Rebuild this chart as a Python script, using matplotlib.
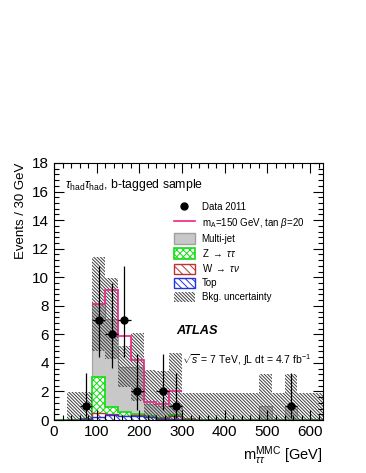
import numpy as np
import matplotlib
matplotlib.use("Agg")
import matplotlib.pyplot as plt
from matplotlib.patches import Patch
from matplotlib.lines import Line2D
from matplotlib.ticker import MultipleLocator

plt.rcParams['font.family'] = ['Liberation Sans', 'DejaVu Sans']
plt.rcParams['mathtext.fontset'] = 'custom'
plt.rcParams['mathtext.rm'] = 'Liberation Sans'
plt.rcParams['mathtext.it'] = 'Liberation Sans:italic'
plt.rcParams['mathtext.bf'] = 'Liberation Sans:bold'
plt.rcParams['hatch.linewidth'] = 0.7

# 30 GeV bins, 0-630 GeV
bin_edges = np.arange(0, 660, 30)

# backgrounds (events per bin)
top_bkg = [0, 0.03, 0.05, 0.2, 0.35, 0.25, 0.3, 0.2, 0.1, 0.1, 0.03,
           0.02, 0.02, 0.02, 0.01, 0.01, 0.02, 0.01, 0.02, 0.01, 0.01]
w_bkg = [0, 0, 0, 0.27, 0.05, 0.03, 0.03, 0.02, 0.02, 0.2, 0.05,
         0, 0, 0, 0, 0, 0, 0, 0, 0, 0]
z_bkg = [0, 0, 0.02, 2.57, 0.54, 0.27, 0.12, 0.05, 0.05, 0.05, 0.02,
         0.01, 0.01, 0, 0, 0, 0, 0, 0, 0, 0]
multijet = [0, 0.05, 0.05, 5.06, 6.16, 3.15, 3.25, 0.85, 0.8, 0.7, 0.05,
            0.05, 0.05, 0.05, 0.05, 0.05, 0.95, 0.05, 0.95, 0.05, 0.05]

# background uncertainty band
band_lo = [0, 0, 0, 4.8, 4.3, 2.3, 1.3, 0, 0, 0, 0,
           0, 0, 0, 0, 0, 0, 0, 0, 0, 0]
band_hi = [0, 1.95, 1.95, 11.4, 9.95, 5.15, 6.1, 3.5, 3.4, 4.7, 1.9,
           1.9, 1.9, 1.9, 1.9, 1.9, 3.2, 1.9, 3.2, 1.9, 1.9]

# signal + background, mA = 150 GeV (90-300 GeV)
sig_edges = [90, 120, 150, 180, 210, 240, 270, 300]
sig_total = [8.15, 9.1, 5.85, 4.2, 1.25, 1.15, 2.05]

# data 2011
data_mass = [75, 105, 135, 165, 195, 255, 285, 555]
data_n = [1, 7, 6, 7, 2, 2, 1, 1]
data_err_lo = [0.83, 2.58, 2.38, 2.58, 1.29, 1.29, 0.83, 0.83]
data_err_hi = [2.3, 3.77, 3.58, 3.77, 2.64, 2.64, 2.3, 2.3]

band_hatch = '\\' * 10
band_col = '#3c3c3c'

fig = plt.figure(figsize=(3.66, 4.73), dpi=100)
ax = fig.add_axes([0.1475, 0.112, 0.735, 0.5434])

c_top = np.array(top_bkg)
c_w = c_top + np.array(w_bkg)
c_z = c_w + np.array(z_bkg)
c_mj = c_z + np.array(multijet)

# stacked histograms, drawn from the outermost in
ax.stairs(c_mj, bin_edges, fill=True, facecolor='#c8c8c8', edgecolor='#a0a0a0', lw=0.8)
ax.stairs(c_z, bin_edges, fill=True, facecolor='white', edgecolor='none')
ax.stairs(c_z, bin_edges, fill=True, facecolor='none', edgecolor='#11dd11', hatch='xxxxx', lw=1.2)
ax.stairs(c_w, bin_edges, fill=True, facecolor='white', edgecolor='none')
ax.stairs(c_w, bin_edges, fill=True, facecolor='none', edgecolor='#bb3333', hatch='\\\\\\\\', lw=1.0)
ax.stairs(c_top, bin_edges, fill=True, facecolor='white', edgecolor='none')
ax.stairs(c_top, bin_edges, fill=True, facecolor='none', edgecolor='#2233dd', hatch='\\\\\\\\\\', lw=1.0)

# uncertainty band
ax.stairs(band_hi, bin_edges, baseline=band_lo, fill=True, facecolor='none',
          edgecolor=band_col, hatch=band_hatch, lw=0)

# signal line
ax.stairs(sig_total, sig_edges, baseline=None, color='#ee2288', lw=1.2)

ax.errorbar(data_mass, data_n, yerr=[data_err_lo, data_err_hi], xerr=15,
            fmt='o', color='black', ms=5, elinewidth=0.9, capsize=0, zorder=5)

ax.set_xlim(0, 630)
ax.set_ylim(0, 18)
ax.xaxis.set_major_locator(MultipleLocator(100))
ax.xaxis.set_minor_locator(MultipleLocator(20))
ax.yaxis.set_major_locator(MultipleLocator(2))
ax.yaxis.set_minor_locator(MultipleLocator(0.4))
ax.tick_params(which='both', direction='in', top=True, right=True, labelsize=11)
ax.tick_params(which='major', length=7, width=0.8)
ax.tick_params(which='minor', length=3.5, width=0.8)
for s in ax.spines.values():
    s.set_linewidth(0.8)

ax.set_ylabel('Events / 30 GeV', fontsize=9.5, loc='top')
ax.set_xlabel(r'm$_{\tau\tau}^{\mathrm{MMC}}$ [GeV]', fontsize=10.5, loc='right')

ax.text(0.041, 0.914, r'$\tau_{\mathrm{had}}\tau_{\mathrm{had}}$, b-tagged sample',
        transform=ax.transAxes, fontsize=8.8, va='center')
ax.text(0.454, 0.346, 'ATLAS', transform=ax.transAxes, fontsize=9.2,
        fontweight='bold', fontstyle='italic', va='center')
ax.text(0.475, 0.233, r'$\sqrt{s}$ = 7 TeV, $\int$L dt = 4.7 fb$^{-1}$',
        transform=ax.transAxes, fontsize=7.5, va='center')

handles = [
    Line2D([], [], marker='o', ls='none', color='black', ms=5),
    Line2D([], [], color='#ee2288', lw=1.2),
    Patch(facecolor='#c8c8c8', edgecolor='#a0a0a0'),
    Patch(facecolor='white', edgecolor='#11dd11', hatch='xxxxx', lw=1.2),
    Patch(facecolor='white', edgecolor='#bb3333', hatch='\\\\\\\\', lw=1.0),
    Patch(facecolor='white', edgecolor='#2233dd', hatch='\\\\\\\\\\', lw=1.0),
    Patch(facecolor='none', edgecolor=band_col, hatch=band_hatch, lw=0),
]
labels = ['Data 2011', r'm$_{\mathrm{A}}$=150 GeV, tan $\beta$=20', 'Multi-jet',
          r'Z $\rightarrow$ $\tau\tau$', r'W $\rightarrow$ $\tau\nu$', 'Top',
          'Bkg. uncertainty']
ax.legend(handles, labels, loc='upper left', bbox_to_anchor=(0.43, 0.865),
          frameon=False, fontsize=7, handlelength=2.2, handleheight=1.3,
          handletextpad=0.7, labelspacing=0.35, borderaxespad=0)

fig.savefig('out.png', dpi=100)
